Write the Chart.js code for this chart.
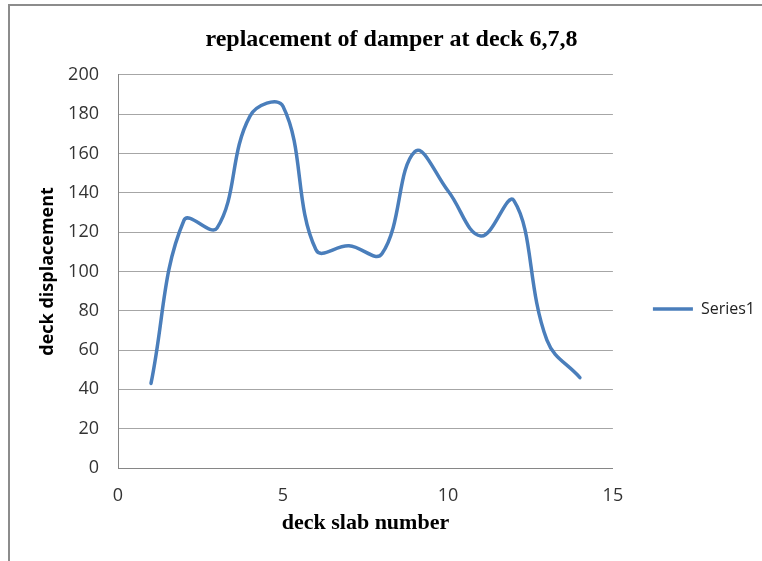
<!DOCTYPE html>
<html>
<head>
<meta charset="utf-8">
<script src="https://cdn.jsdelivr.net/npm/chart.js@4.4.0/dist/chart.umd.min.js"></script>
<style>
  body { margin: 0; background: #fff; }
  #wrap { position: relative; width: 762px; height: 561px; }
  #frame {
    position: absolute; left: 8px; top: 4px; right: -10px; bottom: -10px;
    border-left: 2px solid #8c8c8c; border-top: 2px solid #8c8c8c;
  }
  canvas { position: absolute; left: 0; top: 0; }
</style>
</head>
<body>
<div id="wrap">
  <canvas id="chart" width="762" height="561"></canvas>
  <div id="frame"></div>
</div>
<script>
// Datos
const slabNumbers = [1, 2, 3, 4, 5, 6, 7, 8, 9, 10, 11, 12, 13, 14];
const displacement = [43, 126, 122, 179, 184, 111, 113, 109, 161, 141, 118, 136, 65, 46];
const xTickValues = [0, 5, 10, 15];
const yTickValues = [0, 20, 40, 60, 80, 100, 120, 140, 160, 180, 200];

const SERIES_NAME = "Series1";
const CHART_TITLE = "replacement of damper at deck 6,7,8";
const X_TITLE = "deck slab number";
const Y_TITLE = "deck displacement";

const points = slabNumbers.map((x, i) => ({ x: x, y: displacement[i] }));

const ctx = document.getElementById("chart").getContext("2d");

new Chart(ctx, {
  type: "line",
  data: {
    datasets: [
      {
        label: SERIES_NAME,
        data: points,
        borderColor: "#4a7ebb",
        backgroundColor: "#4a7ebb",
        borderWidth: 3.5,
        pointRadius: 0,
        tension: 0.4,
        borderCapStyle: "round",
        borderJoinStyle: "round",
        fill: false,
      },
    ],
  },
  options: {
    responsive: false,
    animation: false,
    layout: {
      padding: { left: 18, right: -3, top: 0, bottom: 0 },
    },
    plugins: {
      title: {
        display: true,
        text: CHART_TITLE,
        color: "#000",
        font: { family: "'Liberation Serif'", size: 24, weight: "bold" },
        padding: { top: 25, bottom: 21 },
      },
      legend: {
        position: "right",
        title: {
          display: true,
          text: "",
          font: { size: 12 },
          padding: { top: 42.6, bottom: 0 },
        },
        labels: {
          usePointStyle: true,
          pointStyle: "line",
          pointStyleWidth: 40,
          padding: 40,
          color: "#222",
          font: { family: "'Open Sans'", size: 16 },
        },
      },
      tooltip: { enabled: false },
    },
    scales: {
      x: {
        type: "linear",
        min: xTickValues[0],
        max: xTickValues[xTickValues.length - 1],
        afterBuildTicks: (scale) => {
          scale.ticks = xTickValues.map((v) => ({ value: v }));
        },
        afterFit: (scale) => {
          scale.height = 93;
        },
        grid: { display: false, drawTicks: false },
        border: { display: true, color: "#868686", width: 1 },
        ticks: {
          color: "#333",
          padding: 17,
          font: { family: "'Open Sans'", size: 18 },
        },
        title: {
          display: true,
          text: X_TITLE,
          color: "#000",
          font: { family: "'Liberation Serif'", size: 22, weight: "bold" },
          padding: { top: 0, bottom: 24 },
        },
      },
      y: {
        min: yTickValues[0],
        max: yTickValues[yTickValues.length - 1],
        afterBuildTicks: (scale) => {
          scale.ticks = yTickValues.map((v) => ({ value: v }));
        },
        afterFit: (scale) => {
          scale.width = 100;
        },
        grid: { color: "#a6a6a6", lineWidth: 1, drawTicks: false },
        border: { display: true, color: "#868686", width: 1 },
        ticks: {
          color: "#333",
          padding: 19,
          font: { family: "'Open Sans'", size: 18 },
        },
        title: {
          display: true,
          text: Y_TITLE,
          color: "#000",
          font: { family: "'Open Sans'", size: 18, weight: "bold" },
          padding: { top: 19, bottom: 0 },
        },
      },
    },
  },
});
</script>
</body>
</html>
